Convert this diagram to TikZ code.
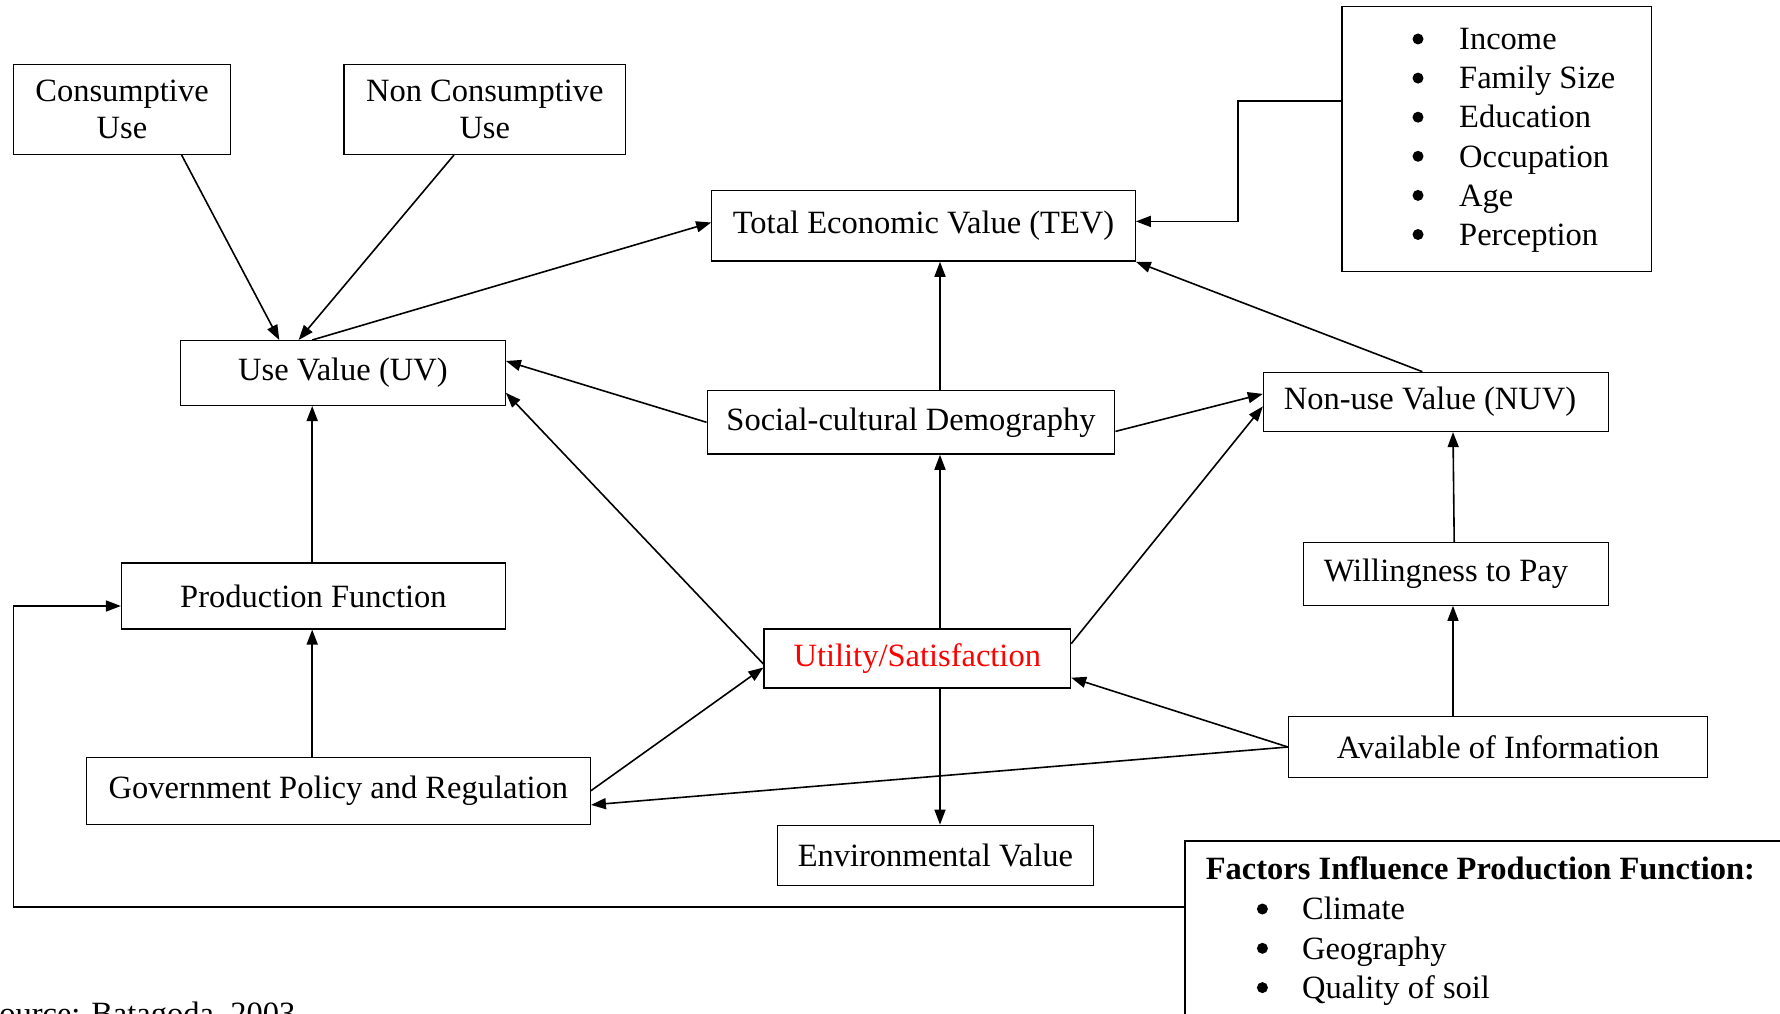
\documentclass[tikz,border=0pt]{standalone}
\usepackage{fontspec}
\setmainfont{Liberation Serif}
\usetikzlibrary{arrows.meta}
\begin{document}
\begin{tikzpicture}[x=1pt,y=-1pt,
  box/.style={draw, line width=1.3pt, inner sep=0pt, align=center, font=\fontsize{32.5}{37}\selectfont},
  txt/.style={inner sep=0pt, font=\fontsize{32.5}{37}\selectfont},
  bul/.style={circle, fill, inner sep=0pt, minimum size=11pt},
  arr/.style={line width=1.6pt, -{Triangle[length=15pt,width=11pt]}},
  ln/.style={line width=1.6pt}]
\useasboundingbox (0,0) rectangle (1780,1014);
\clip (0,0) rectangle (1780,1014);
% boxes
\node[box, minimum width=216.8pt, minimum height=89.7pt] (cons) at (122,109.5) {Consumptive\\Use};
\node[box, minimum width=281.5pt, minimum height=89.7pt] (noncons) at (484.8,109.5) {Non Consumptive\\Use};
\node[box, minimum width=423.4pt, minimum height=70.4pt] (tev) at (923.5,225.9) {Total Economic Value (TEV)};
\node[box, minimum width=309.9pt, minimum height=264.5pt] (list) at (1496.8,139) {};
\node[box, minimum width=324.7pt, minimum height=64.7pt] (uv) at (342.9,373) {Use Value (UV)};
\node[box, minimum width=407.6pt, minimum height=63.6pt] (soc) at (911,422.3) {Social-cultural Demography};
\node[box, minimum width=345.1pt, minimum height=59.1pt] (nuv) at (1436,401.9) {\hspace*{-12pt}Non-use Value (NUV)};
\node[box, minimum width=305.4pt, minimum height=62.5pt] (wtp) at (1455.9,573.9) {\hspace*{-20pt}Willingness to Pay};
\node[box, minimum width=383.7pt, minimum height=65.9pt] (prod) at (313.4,596) {Production Function};
\node[box, minimum width=306.5pt, minimum height=59.1pt, text=red] (util) at (917.3,658.5) {Utility/Satisfaction};
\node[box, minimum width=418.9pt, minimum height=61.3pt] (aoi) at (1498,747) {Available of Information};
\node[box, minimum width=504pt, minimum height=67pt] (gov) at (338.3,790.7) {Government Policy and Regulation};
\node[box, minimum width=315.6pt, minimum height=60.2pt] (env) at (935.4,855.4) {Environmental Value};
\node[box, minimum width=615pt, minimum height=199pt] (fac) at (1492.5,940.5) {};
% list items
\foreach \t [count=\i] in {Income,Family Size,Education,Occupation,Age,Perception}{
  \node[bul] (lb\i) at (1418,{39+39.1*(\i-1)}) {};
  \node[txt, anchor=mid west] (li\i) at (1459,{47.5+39.1*(\i-1)}) {\t};
}
\node[txt, anchor=mid west, font=\fontsize{32.5}{37}\selectfont\bfseries] (fhead) at (1205.6,877.5) {Factors Influence Production Function:};
\foreach \t [count=\i] in {Climate,Geography,Quality of soil}{
  \node[bul] (fb\i) at (1262.4,{909+39.3*(\i-1)}) {};
  \node[txt, anchor=mid west] (fi\i) at (1302,{917.5+39.3*(\i-1)}) {\t};
}
\node[txt, anchor=base west] (src) at (-19,1024) {Source: Batagoda, 2003};
% connectors
\draw[arr] ([xshift=59.6pt]cons.south) -- ([xshift=-63.6pt]uv.north);
\draw[arr] ([xshift=-30.8pt]noncons.south) -- ([xshift=-44.3pt]uv.north);
\draw[arr] ([xshift=-30.7pt]uv.north) -- ([yshift=3.4pt]tev.west);
\draw[arr] (soc.west) -- ([yshift=12pt]uv.east);
\draw[arr] ([yshift=-5.5pt]util.west) -- ([yshift=-19.8pt]uv.east);
\draw[arr] ([xshift=29pt]soc.north) -- ([xshift=29pt]soc.north |- tev.south);
\draw[arr] ([yshift=-9.1pt]soc.east) -- ([yshift=8pt]nuv.west);
\draw[arr] ([xshift=-13.6pt]nuv.north) -- (tev.south east);
\draw[arr] ([yshift=38pt]list.west) -- ++(-103,0) |- ([yshift=4.5pt]tev.east);
\draw[arr] ([xshift=22.7pt]util.north) -- ([xshift=22.7pt]util.north |- soc.south);
\draw[arr] ([yshift=14.8pt]util.east) -- ([yshift=-4.5pt]nuv.west);
\draw[arr] ([xshift=-1.7pt]wtp.north) -- ([xshift=17pt]nuv.south);
\draw[arr] ([xshift=-45pt]aoi.north) -- ([xshift=-45pt]aoi.north |- wtp.south);
\draw[arr] (aoi.west) -- ([yshift=-19.2pt]util.east);
\draw[arr] (aoi.west) -- ([yshift=-14.2pt]gov.east);
\draw[arr] (gov.east) -- ([yshift=-9pt]util.west);
\draw[arr] ([xshift=22.7pt]util.south) -- ([xshift=22.7pt]util.south |- env.north);
\draw[arr] ([xshift=-26.1pt]gov.north) -- ([xshift=-26.1pt]gov.north |- prod.south);
\draw[arr] ([xshift=-1.2pt]prod.north) -- ([xshift=-1.2pt]prod.north |- uv.south);
\coordinate (loopc) at (13.6,907);
\draw[arr] ([yshift=33.5pt]fac.west) -- (loopc) |- ([yshift=-10pt]prod.west);
\end{tikzpicture}
\end{document}
